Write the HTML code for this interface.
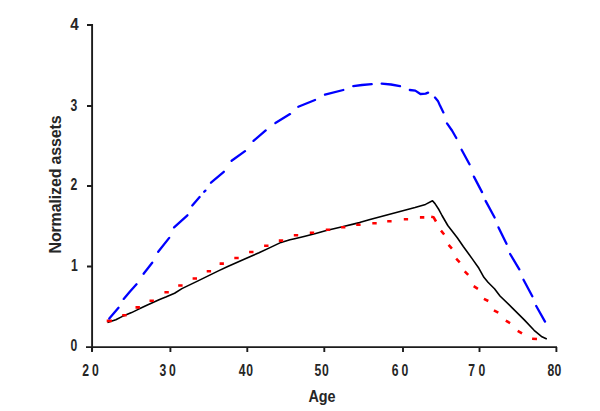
<!DOCTYPE html>
<html><head><meta charset="utf-8"><style>
html,body{margin:0;padding:0;background:#fff;}
svg{display:block;}
.t{font-family:"Liberation Sans",Arial,sans-serif;font-size:16px;fill:#262626;}
</style></head><body>
<svg width="600" height="411" viewBox="0 0 600 411">
<path d="M92.1 24V351M87 25H92M87 106H92M87 186H92M87 266.5H92M86 347.1H557" stroke="#1c1c1c" stroke-width="1.9" fill="none"/>
<path d="M92 347V352" stroke="#1c1c1c" stroke-width="1.9"/>
<path d="M170.4 347V352" stroke="#1c1c1c" stroke-width="1.9"/>
<path d="M247.3 347V352" stroke="#1c1c1c" stroke-width="1.9"/>
<path d="M324.3 347V352" stroke="#1c1c1c" stroke-width="1.9"/>
<path d="M403 347V352" stroke="#1c1c1c" stroke-width="1.9"/>
<path d="M479.5 347V352" stroke="#1c1c1c" stroke-width="1.9"/>
<path d="M556.4 347V352" stroke="#1c1c1c" stroke-width="1.9"/>
<polyline points="107.5,322.6 115.8,319.8 122.0,316.6 131.6,312.6 137.7,309.6 147.4,305.1 159.6,299.5 165.8,297.0 174.6,293.2 181.9,288.6 198.0,280.9 218.4,270.9 228.3,266.2 247.0,257.9 259.0,252.8 270.0,247.6 281.0,242.4 290.0,239.8 295.7,238.5 305.0,236.2 315.7,233.4 326.3,230.6 342.3,226.7 354.3,223.9 359.5,222.6 370.0,219.5 385.0,215.5 400.0,211.6 415.0,207.6 425.5,204.4 432.5,200.8 435.0,203.6 439.0,209.8 442.0,215.5 447.8,225.5 457.3,237.8 463.3,246.5 472.1,258.6 478.9,268.3 483.9,277.3 488.0,282.3 494.5,288.8 500.0,296.0 512.2,307.8 524.3,319.9 534.1,330.3 541.4,336.4 546.8,338.9" fill="none" stroke="#000" stroke-width="1.6" stroke-linejoin="round"/>
<path d="M106.7 320.9 L111.9 320.9 M122.2 315.2 L126.6 315.2 M135.5 307.4 L139.9 307.4 M149.5 300.7 L153.9 300.7 M164.4 292.3 L168.8 292.3 M178.2 285.5 L182.6 285.5 M192.6 278.5 L197.0 278.5 M206.7 271.2 L211.1 271.2 M219.6 263.6 L223.9 263.6 M234.3 258.0 L238.7 258.0 M249.1 252.0 L253.5 252.0 M264.1 245.7 L268.5 245.7 M278.8 240.6 L283.2 240.6 M293.8 235.3 L298.2 235.3 M309.8 232.7 L314.2 232.7 M325.8 229.7 L330.2 229.7 M341.1 227.3 L345.4 227.3 M356.2 224.8 L360.6 224.8 M372.3 223.3 L376.7 223.3 M387.2 221.2 L391.6 221.2 M403.8 219.2 L408.1 219.2 M419.9 217.4 L424.3 217.4 M431.2 216.8 L433.5 217.2 L436.0 221.5 M441.0 230.7 L444.2 234.5 M448.6 244.9 L451.9 248.7 M456.2 258.6 L459.7 262.3 M464.7 271.3 L468.2 274.8 M473.7 286.2 L477.9 288.9 M483.9 298.8 L488.3 301.0 M493.9 310.4 L498.3 312.7 M505.8 320.6 L510.1 323.1 M517.7 330.9 L522.0 333.4 M532.1 338.7 L537.0 339.0" fill="none" stroke="#ff0000" stroke-width="2.6" stroke-linejoin="round" stroke-linecap="butt"/>
<path d="M109.3 318.6 L118.5 307.8 M123.7 298.9 L130.0 291.5 L136.5 284.3 M143.6 273.7 L152.2 262.7 M158.2 251.8 L169.2 237.9 M174.1 227.4 L187.4 215.3 M192.3 205.5 L199.6 197.0 M204.2 191.8 L205.4 190.6 M211.0 182.7 L223.8 171.8 M231.6 160.8 L245.0 151.1 M253.5 140.9 L265.7 130.4 M275.4 123.1 L290.0 114.1 M298.3 106.7 L315.0 100.0 M325.0 94.7 L343.3 90.0 M353.3 86.2 L362.0 85.0 L371.7 84.2 M381.7 83.7 L391.0 84.5 L400.0 86.2 M409.8 90.0 L415.3 90.6 L420.4 94.0 L425.6 93.6 L428.1 92.6 M435.0 97.5 L437.9 100.9 L440.0 105.6 L443.4 112.4 M447.0 123.4 L452.0 130.5 L456.3 138.0 M461.6 149.7 L469.5 164.3 M473.9 176.6 L482.0 192.1 M485.6 200.9 L494.6 217.5 M498.5 227.4 L506.5 243.8 M510.1 254.0 L519.3 269.3 M523.5 279.7 L532.3 296.3 M536.2 306.0 L545.0 321.6" fill="none" stroke="#0000ff" stroke-width="2.3" stroke-linejoin="round" stroke-linecap="round"/>
<text transform="translate(74.5 29.8) scale(0.95 1)" text-anchor="middle" class="t" font-weight="bold">4</text>
<text transform="translate(73.9 110.5) scale(0.76 1)" text-anchor="middle" class="t" font-weight="bold">3</text>
<text transform="translate(73.9 189.5) scale(0.76 1)" text-anchor="middle" class="t" font-weight="bold">2</text>
<text transform="translate(74.3 270.8) scale(0.76 1)" text-anchor="middle" class="t" font-weight="bold">1</text>
<text transform="translate(73.9 351.3) scale(0.76 1)" text-anchor="middle" class="t" font-weight="bold">0</text>
<text transform="translate(85.6 375.5) scale(0.76 1)" text-anchor="middle" class="t" font-weight="bold">2</text>
<text transform="translate(95.5 375.5) scale(0.76 1)" text-anchor="middle" class="t" font-weight="bold">0</text>
<text transform="translate(163.0 375.5) scale(0.76 1)" text-anchor="middle" class="t" font-weight="bold">3</text>
<text transform="translate(172.5 375.5) scale(0.76 1)" text-anchor="middle" class="t" font-weight="bold">0</text>
<text transform="translate(242.1 375.5) scale(0.76 1)" text-anchor="middle" class="t" font-weight="bold">4</text>
<text transform="translate(249.6 375.5) scale(0.76 1)" text-anchor="middle" class="t" font-weight="bold">0</text>
<text transform="translate(318.0 375.5) scale(0.76 1)" text-anchor="middle" class="t" font-weight="bold">5</text>
<text transform="translate(325.5 375.5) scale(0.76 1)" text-anchor="middle" class="t" font-weight="bold">0</text>
<text transform="translate(395.1 375.5) scale(0.76 1)" text-anchor="middle" class="t" font-weight="bold">6</text>
<text transform="translate(404.9 375.5) scale(0.76 1)" text-anchor="middle" class="t" font-weight="bold">0</text>
<text transform="translate(471.6 375.5) scale(0.76 1)" text-anchor="middle" class="t" font-weight="bold">7</text>
<text transform="translate(482.0 375.5) scale(0.76 1)" text-anchor="middle" class="t" font-weight="bold">0</text>
<text transform="translate(551.0 375.5) scale(0.76 1)" text-anchor="middle" class="t" font-weight="bold">8</text>
<text transform="translate(558.0 375.5) scale(0.76 1)" text-anchor="middle" class="t" font-weight="bold">0</text>
<text transform="translate(322 402) scale(0.9 1)" text-anchor="middle" class="t" font-weight="bold">Age</text>
<text transform="translate(61 184.5) rotate(-90)" text-anchor="middle" class="t" font-weight="bold" letter-spacing="-0.15">Normalized assets</text>
</svg>
</body></html>
